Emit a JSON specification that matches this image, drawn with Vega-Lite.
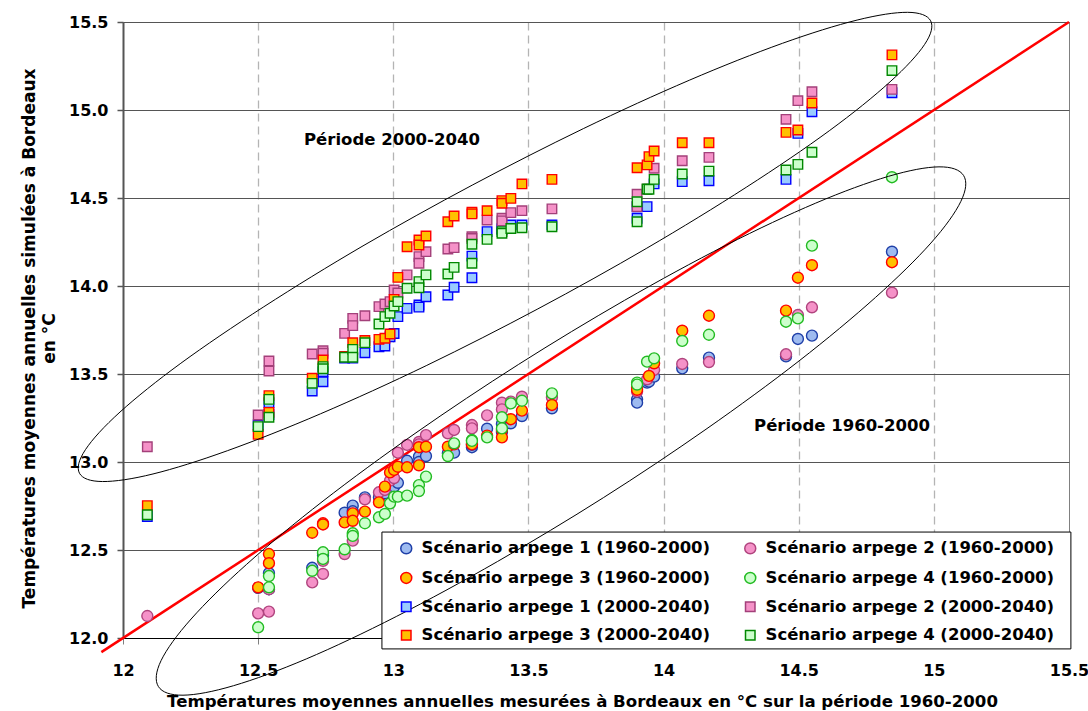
{
"$schema": "https://vega.github.io/schema/vega-lite/v6.json",
"width": 946, "height": 616,
"autosize": {"type": "none"},
"padding": {"left": 123, "top": 22, "right": 19, "bottom": 73},
"background": "white",
"config": {
  "view": {"stroke": "#808080", "strokeWidth": 1},
  "font": "DejaVu Sans",
  "axis": {"labelFont": "DejaVu Sans", "labelFontWeight": "bold", "labelColor": "black", "titleFont": "DejaVu Sans", "titleFontWeight": "bold", "titleColor": "black"},
  "legend": {"padding": 0, "symbolStrokeWidth": 1.5, "labelFont": "DejaVu Sans", "labelFontWeight": "bold", "labelFontSize": 16.5, "labelColor": "black", "labelLimit": 400}
},
"datasets": {
"pts": [
{"s":"A1","x":12.50,"y":12.285},{"s":"A1","x":12.54,"y":12.368},{"s":"A1","x":12.54,"y":12.277},{"s":"A1","x":12.70,"y":12.399},{"s":"A1","x":12.74,"y":12.481},{"s":"A1","x":12.74,"y":12.47},{"s":"A1","x":12.82,"y":12.712},{"s":"A1","x":12.85,"y":12.752},{"s":"A1","x":12.85,"y":12.72},{"s":"A1","x":12.895,"y":12.799},{"s":"A1","x":12.947,"y":12.80},{"s":"A1","x":12.969,"y":12.822},{"s":"A1","x":12.988,"y":12.845},{"s":"A1","x":13.003,"y":12.860},{"s":"A1","x":13.017,"y":12.882},{"s":"A1","x":13.051,"y":13.007},{"s":"A1","x":13.095,"y":13.031},{"s":"A1","x":13.095,"y":13.0},{"s":"A1","x":13.121,"y":13.034},{"s":"A1","x":13.202,"y":13.05},{"s":"A1","x":13.225,"y":13.053},{"s":"A1","x":13.291,"y":13.084},{"s":"A1","x":13.291,"y":13.097},{"s":"A1","x":13.347,"y":13.189},{"s":"A1","x":13.402,"y":13.216},{"s":"A1","x":13.402,"y":13.170},{"s":"A1","x":13.435,"y":13.220},{"s":"A1","x":13.476,"y":13.261},{"s":"A1","x":13.587,"y":13.305},{"s":"A1","x":13.902,"y":13.356},{"s":"A1","x":13.902,"y":13.337},{"s":"A1","x":13.939,"y":13.451},{"s":"A1","x":13.946,"y":13.456},{"s":"A1","x":13.965,"y":13.485},{"s":"A1","x":14.069,"y":13.532},{"s":"A1","x":14.168,"y":13.593},{"s":"A1","x":14.453,"y":13.60},{"s":"A1","x":14.497,"y":13.699},{"s":"A1","x":14.549,"y":13.718},{"s":"A1","x":14.845,"y":14.195},
{"s":"A2","x":12.09,"y":12.125},{"s":"A2","x":12.50,"y":12.140},{"s":"A2","x":12.54,"y":12.277},{"s":"A2","x":12.54,"y":12.150},{"s":"A2","x":12.70,"y":12.316},{"s":"A2","x":12.74,"y":12.438},{"s":"A2","x":12.74,"y":12.364},{"s":"A2","x":12.82,"y":12.477},{"s":"A2","x":12.85,"y":12.553},{"s":"A2","x":12.895,"y":12.788},{"s":"A2","x":12.947,"y":12.828},{"s":"A2","x":12.969,"y":12.841},{"s":"A2","x":12.988,"y":12.894},{"s":"A2","x":13.003,"y":12.909},{"s":"A2","x":13.017,"y":13.053},{"s":"A2","x":13.051,"y":13.097},{"s":"A2","x":13.095,"y":13.114},{"s":"A2","x":13.095,"y":13.10},{"s":"A2","x":13.121,"y":13.153},{"s":"A2","x":13.202,"y":13.163},{"s":"A2","x":13.225,"y":13.182},{"s":"A2","x":13.291,"y":13.210},{"s":"A2","x":13.291,"y":13.191},{"s":"A2","x":13.347,"y":13.265},{"s":"A2","x":13.402,"y":13.337},{"s":"A2","x":13.402,"y":13.299},{"s":"A2","x":13.435,"y":13.343},{"s":"A2","x":13.476,"y":13.371},{"s":"A2","x":13.587,"y":13.368},{"s":"A2","x":13.902,"y":13.40},{"s":"A2","x":13.939,"y":13.47},{"s":"A2","x":13.965,"y":13.523},{"s":"A2","x":14.069,"y":13.557},{"s":"A2","x":14.168,"y":13.568},{"s":"A2","x":14.453,"y":13.612},{"s":"A2","x":14.497,"y":13.835},{"s":"A2","x":14.549,"y":13.879},{"s":"A2","x":14.845,"y":13.962},
{"s":"A3","x":12.50,"y":12.288},{"s":"A3","x":12.54,"y":12.477},{"s":"A3","x":12.54,"y":12.425},{"s":"A3","x":12.70,"y":12.598},{"s":"A3","x":12.74,"y":12.652},{"s":"A3","x":12.74,"y":12.645},{"s":"A3","x":12.82,"y":12.657},{"s":"A3","x":12.85,"y":12.708},{"s":"A3","x":12.85,"y":12.666},{"s":"A3","x":12.895,"y":12.718},{"s":"A3","x":12.947,"y":12.771},{"s":"A3","x":12.969,"y":12.860},{"s":"A3","x":12.988,"y":12.941},{"s":"A3","x":13.003,"y":12.955},{"s":"A3","x":13.017,"y":12.973},{"s":"A3","x":13.051,"y":12.970},{"s":"A3","x":13.095,"y":13.084},{"s":"A3","x":13.095,"y":12.981},{"s":"A3","x":13.121,"y":13.087},{"s":"A3","x":13.202,"y":13.087},{"s":"A3","x":13.225,"y":13.10},{"s":"A3","x":13.291,"y":13.106},{"s":"A3","x":13.291,"y":13.10},{"s":"A3","x":13.347,"y":13.15},{"s":"A3","x":13.402,"y":13.182},{"s":"A3","x":13.402,"y":13.140},{"s":"A3","x":13.435,"y":13.243},{"s":"A3","x":13.476,"y":13.292},{"s":"A3","x":13.587,"y":13.324},{"s":"A3","x":13.902,"y":13.424},{"s":"A3","x":13.902,"y":13.41},{"s":"A3","x":13.946,"y":13.489},{"s":"A3","x":13.965,"y":13.561},{"s":"A3","x":14.069,"y":13.746},{"s":"A3","x":14.168,"y":13.831},{"s":"A3","x":14.453,"y":13.860},{"s":"A3","x":14.497,"y":14.047},{"s":"A3","x":14.549,"y":14.118},{"s":"A3","x":14.845,"y":14.135},
{"s":"A4","x":12.50,"y":12.061},{"s":"A4","x":12.54,"y":12.352},{"s":"A4","x":12.54,"y":12.288},{"s":"A4","x":12.70,"y":12.382},{"s":"A4","x":12.74,"y":12.487},{"s":"A4","x":12.74,"y":12.449},{"s":"A4","x":12.82,"y":12.504},{"s":"A4","x":12.85,"y":12.595},{"s":"A4","x":12.85,"y":12.580},{"s":"A4","x":12.895,"y":12.652},{"s":"A4","x":12.947,"y":12.686},{"s":"A4","x":12.969,"y":12.705},{"s":"A4","x":12.988,"y":12.765},{"s":"A4","x":13.003,"y":12.803},{"s":"A4","x":13.017,"y":12.803},{"s":"A4","x":13.051,"y":12.809},{"s":"A4","x":13.095,"y":12.869},{"s":"A4","x":13.095,"y":12.835},{"s":"A4","x":13.121,"y":12.917},{"s":"A4","x":13.202,"y":13.034},{"s":"A4","x":13.225,"y":13.106},{"s":"A4","x":13.291,"y":13.125},{"s":"A4","x":13.291,"y":13.12},{"s":"A4","x":13.347,"y":13.140},{"s":"A4","x":13.402,"y":13.254},{"s":"A4","x":13.402,"y":13.191},{"s":"A4","x":13.435,"y":13.333},{"s":"A4","x":13.476,"y":13.348},{"s":"A4","x":13.587,"y":13.390},{"s":"A4","x":13.902,"y":13.451},{"s":"A4","x":13.902,"y":13.44},{"s":"A4","x":13.939,"y":13.570},{"s":"A4","x":13.965,"y":13.589},{"s":"A4","x":14.069,"y":13.688},{"s":"A4","x":14.168,"y":13.723},{"s":"A4","x":14.453,"y":13.797},{"s":"A4","x":14.497,"y":13.816},{"s":"A4","x":14.549,"y":14.229},{"s":"A4","x":14.845,"y":14.618},
{"s":"B1","x":12.09,"y":12.69},{"s":"B1","x":12.50,"y":13.210},{"s":"B1","x":12.54,"y":13.337},{"s":"B1","x":12.54,"y":13.27},{"s":"B1","x":12.70,"y":13.403},{"s":"B1","x":12.74,"y":13.513},{"s":"B1","x":12.74,"y":13.456},{"s":"B1","x":12.82,"y":13.59},{"s":"B1","x":12.85,"y":13.59},{"s":"B1","x":12.895,"y":13.621},{"s":"B1","x":12.947,"y":13.655},{"s":"B1","x":12.969,"y":13.659},{"s":"B1","x":12.988,"y":13.712},{"s":"B1","x":13.003,"y":13.73},{"s":"B1","x":13.017,"y":13.826},{"s":"B1","x":13.051,"y":13.873},{"s":"B1","x":13.095,"y":13.892},{"s":"B1","x":13.095,"y":13.88},{"s":"B1","x":13.121,"y":13.939},{"s":"B1","x":13.202,"y":13.949},{"s":"B1","x":13.225,"y":13.993},{"s":"B1","x":13.291,"y":14.170},{"s":"B1","x":13.291,"y":14.047},{"s":"B1","x":13.347,"y":14.309},{"s":"B1","x":13.402,"y":14.327},{"s":"B1","x":13.402,"y":14.32},{"s":"B1","x":13.435,"y":14.347},{"s":"B1","x":13.476,"y":14.347},{"s":"B1","x":13.587,"y":14.347},{"s":"B1","x":13.902,"y":14.45},{"s":"B1","x":13.902,"y":14.385},{"s":"B1","x":13.939,"y":14.451},{"s":"B1","x":13.965,"y":14.58},{"s":"B1","x":14.069,"y":14.593},{"s":"B1","x":14.168,"y":14.598},{"s":"B1","x":14.453,"y":14.606},{"s":"B1","x":14.497,"y":14.867},{"s":"B1","x":14.549,"y":14.99},{"s":"B1","x":14.845,"y":15.098},
{"s":"B2","x":12.09,"y":13.087},{"s":"B2","x":12.50,"y":13.267},{"s":"B2","x":12.54,"y":13.574},{"s":"B2","x":12.54,"y":13.517},{"s":"B2","x":12.70,"y":13.614},{"s":"B2","x":12.74,"y":13.632},{"s":"B2","x":12.74,"y":13.618},{"s":"B2","x":12.82,"y":13.731},{"s":"B2","x":12.85,"y":13.816},{"s":"B2","x":12.85,"y":13.775},{"s":"B2","x":12.895,"y":13.831},{"s":"B2","x":12.947,"y":13.883},{"s":"B2","x":12.969,"y":13.898},{"s":"B2","x":12.988,"y":13.911},{"s":"B2","x":13.003,"y":13.977},{"s":"B2","x":13.017,"y":13.96},{"s":"B2","x":13.051,"y":14.063},{"s":"B2","x":13.095,"y":14.167},{"s":"B2","x":13.095,"y":14.129},{"s":"B2","x":13.121,"y":14.195},{"s":"B2","x":13.202,"y":14.210},{"s":"B2","x":13.225,"y":14.218},{"s":"B2","x":13.291,"y":14.280},{"s":"B2","x":13.291,"y":14.27},{"s":"B2","x":13.347,"y":14.375},{"s":"B2","x":13.402,"y":14.385},{"s":"B2","x":13.402,"y":14.37},{"s":"B2","x":13.435,"y":14.417},{"s":"B2","x":13.476,"y":14.428},{"s":"B2","x":13.587,"y":14.438},{"s":"B2","x":13.902,"y":14.521},{"s":"B2","x":13.902,"y":14.451},{"s":"B2","x":13.939,"y":14.55},{"s":"B2","x":13.965,"y":14.669},{"s":"B2","x":14.069,"y":14.712},{"s":"B2","x":14.168,"y":14.731},{"s":"B2","x":14.453,"y":14.947},{"s":"B2","x":14.497,"y":15.053},{"s":"B2","x":14.549,"y":15.104},{"s":"B2","x":14.845,"y":15.117},
{"s":"B3","x":12.09,"y":12.752},{"s":"B3","x":12.50,"y":13.157},{"s":"B3","x":12.54,"y":13.377},{"s":"B3","x":12.54,"y":13.282},{"s":"B3","x":12.70,"y":13.476},{"s":"B3","x":12.74,"y":13.580},{"s":"B3","x":12.82,"y":13.60},{"s":"B3","x":12.85,"y":13.678},{"s":"B3","x":12.895,"y":13.69},{"s":"B3","x":12.947,"y":13.697},{"s":"B3","x":12.969,"y":13.703},{"s":"B3","x":12.988,"y":13.727},{"s":"B3","x":13.003,"y":13.924},{"s":"B3","x":13.017,"y":14.049},{"s":"B3","x":13.051,"y":14.223},{"s":"B3","x":13.095,"y":14.261},{"s":"B3","x":13.095,"y":14.233},{"s":"B3","x":13.121,"y":14.284},{"s":"B3","x":13.202,"y":14.365},{"s":"B3","x":13.225,"y":14.398},{"s":"B3","x":13.291,"y":14.419},{"s":"B3","x":13.291,"y":14.41},{"s":"B3","x":13.347,"y":14.428},{"s":"B3","x":13.402,"y":14.485},{"s":"B3","x":13.402,"y":14.47},{"s":"B3","x":13.435,"y":14.498},{"s":"B3","x":13.476,"y":14.580},{"s":"B3","x":13.587,"y":14.606},{"s":"B3","x":13.902,"y":14.672},{"s":"B3","x":13.939,"y":14.688},{"s":"B3","x":13.946,"y":14.735},{"s":"B3","x":13.965,"y":14.767},{"s":"B3","x":14.069,"y":14.814},{"s":"B3","x":14.168,"y":14.814},{"s":"B3","x":14.453,"y":14.873},{"s":"B3","x":14.497,"y":14.886},{"s":"B3","x":14.549,"y":15.04},{"s":"B3","x":14.845,"y":15.313},
{"s":"B4","x":12.09,"y":12.70},{"s":"B4","x":12.50,"y":13.201},{"s":"B4","x":12.54,"y":13.356},{"s":"B4","x":12.54,"y":13.254},{"s":"B4","x":12.70,"y":13.447},{"s":"B4","x":12.74,"y":13.542},{"s":"B4","x":12.74,"y":13.53},{"s":"B4","x":12.82,"y":13.595},{"s":"B4","x":12.85,"y":13.640},{"s":"B4","x":12.85,"y":13.595},{"s":"B4","x":12.895,"y":13.678},{"s":"B4","x":12.947,"y":13.784},{"s":"B4","x":12.969,"y":13.826},{"s":"B4","x":12.988,"y":13.845},{"s":"B4","x":13.003,"y":13.886},{"s":"B4","x":13.017,"y":13.911},{"s":"B4","x":13.051,"y":13.987},{"s":"B4","x":13.095,"y":14.025},{"s":"B4","x":13.095,"y":13.990},{"s":"B4","x":13.121,"y":14.063},{"s":"B4","x":13.202,"y":14.068},{"s":"B4","x":13.225,"y":14.106},{"s":"B4","x":13.291,"y":14.237},{"s":"B4","x":13.291,"y":14.129},{"s":"B4","x":13.347,"y":14.265},{"s":"B4","x":13.402,"y":14.309},{"s":"B4","x":13.402,"y":14.30},{"s":"B4","x":13.435,"y":14.327},{"s":"B4","x":13.476,"y":14.331},{"s":"B4","x":13.587,"y":14.337},{"s":"B4","x":13.902,"y":14.479},{"s":"B4","x":13.902,"y":14.365},{"s":"B4","x":13.939,"y":14.551},{"s":"B4","x":13.946,"y":14.55},{"s":"B4","x":13.965,"y":14.606},{"s":"B4","x":14.069,"y":14.636},{"s":"B4","x":14.168,"y":14.653},{"s":"B4","x":14.453,"y":14.659},{"s":"B4","x":14.497,"y":14.691},{"s":"B4","x":14.549,"y":14.76},{"s":"B4","x":14.845,"y":15.224}
],
"ell": [
{"e":1,"i":0,"x":14.988,"y":15.507},{"e":1,"i":1,"x":14.966,"y":15.373},{"e":1,"i":2,"x":14.838,"y":15.160},{"e":1,"i":3,"x":14.613,"y":14.882},{"e":1,"i":4,"x":14.306,"y":14.561},{"e":1,"i":5,"x":13.938,"y":14.215},{"e":1,"i":6,"x":13.535,"y":13.870},{"e":1,"i":7,"x":13.124,"y":13.549},{"e":1,"i":8,"x":12.731,"y":13.274},{"e":1,"i":9,"x":12.386,"y":13.064},{"e":1,"i":10,"x":12.111,"y":12.932},{"e":1,"i":11,"x":11.924,"y":12.889},{"e":1,"i":12,"x":11.839,"y":12.936},{"e":1,"i":13,"x":11.861,"y":13.070},{"e":1,"i":14,"x":11.989,"y":13.284},{"e":1,"i":15,"x":12.214,"y":13.561},{"e":1,"i":16,"x":12.521,"y":13.882},{"e":1,"i":17,"x":12.888,"y":14.228},{"e":1,"i":18,"x":13.292,"y":14.573},{"e":1,"i":19,"x":13.703,"y":14.894},{"e":1,"i":20,"x":14.095,"y":15.169},{"e":1,"i":21,"x":14.440,"y":15.379},{"e":1,"i":22,"x":14.716,"y":15.511},{"e":1,"i":23,"x":14.903,"y":15.555},
{"e":2,"i":0,"x":15.110,"y":14.628},{"e":2,"i":1,"x":15.100,"y":14.481},{"e":2,"i":2,"x":14.989,"y":14.244},{"e":2,"i":3,"x":14.784,"y":13.935},{"e":2,"i":4,"x":14.501,"y":13.574},{"e":2,"i":5,"x":14.157,"y":13.186},{"e":2,"i":6,"x":13.777,"y":12.797},{"e":2,"i":7,"x":13.386,"y":12.435},{"e":2,"i":8,"x":13.011,"y":12.122},{"e":2,"i":9,"x":12.678,"y":11.881},{"e":2,"i":10,"x":12.409,"y":11.729},{"e":2,"i":11,"x":12.222,"y":11.675},{"e":2,"i":12,"x":12.131,"y":11.724},{"e":2,"i":13,"x":12.141,"y":11.872},{"e":2,"i":14,"x":12.252,"y":12.108},{"e":2,"i":15,"x":12.457,"y":12.418},{"e":2,"i":16,"x":12.740,"y":12.778},{"e":2,"i":17,"x":13.084,"y":13.166},{"e":2,"i":18,"x":13.464,"y":13.555},{"e":2,"i":19,"x":13.855,"y":13.918},{"e":2,"i":20,"x":14.230,"y":14.231},{"e":2,"i":21,"x":14.563,"y":14.471},{"e":2,"i":22,"x":14.832,"y":14.623},{"e":2,"i":23,"x":15.019,"y":14.677}
]
},
"layer": [
{
  "data": {"values": [{}]},
  "mark": {"type": "rect", "fill": "white", "stroke": "black", "strokeWidth": 1, "clip": false},
  "encoding": {
    "x": {"datum": 12.958, "type": "quantitative", "scale": {"domain": [12, 15.5], "nice": false, "zero": false},
      "axis": {"values": [12, 12.5, 13, 13.5, 14, 14.5, 15, 15.5], "format": ".1~f", "labelFontSize": 16, "labelPadding": 18, "labelOverlap": false, "labelFlush": false,
        "tickSize": 6, "tickColor": "#808080", "domainColor": "black", "domainWidth": 1,
        "grid": true, "gridColor": "#b4b4b4", "gridDash": [8, 5], "gridWidth": 1.3,
        "gridOpacity": {"condition": {"test": "datum.value <= 12 || datum.value >= 15.5", "value": 0}, "value": 1},
        "title": "Températures moyennes annuelles mesurées à Bordeaux en °C sur la période 1960-2000",
        "titleFontSize": 16.6, "titleX": 459, "titleY": 68, "titleBaseline": "alphabetic"}},
    "x2": {"datum": 15.507},
    "y": {"datum": 12.602, "type": "quantitative", "scale": {"domain": [12, 15.5], "nice": false, "zero": false},
      "axis": {"values": [12, 12.5, 13, 13.5, 14, 14.5, 15, 15.5], "format": ".1f", "labelFontSize": 16, "labelPadding": 9, "labelOverlap": false, "labelFlush": false,
        "tickSize": 6, "tickColor": "#555555", "tickWidth": 1.5, "domainColor": "#555555", "domainWidth": 2,
        "grid": true, "gridColor": "#555555", "gridWidth": 1,
        "title": ["Températures moyennes annuelles simulées à Bordeaux", "en °C"],
        "titleFontSize": 17, "titleLineHeight": 20, "titlePadding": 10, "titleY": 316}},
    "y2": {"datum": 11.938}
  }
},
{
  "data": {"values": [{"x": 11.92, "y": 11.92}, {"x": 15.5, "y": 15.5}]},
  "mark": {"type": "line", "color": "#ff0000", "strokeWidth": 2.5, "clip": false},
  "encoding": {"x": {"field": "x", "type": "quantitative"}, "y": {"field": "y", "type": "quantitative"}}
},
{
  "data": {"name": "pts"},
  "mark": {"type": "point", "filled": true, "opacity": 1, "fillOpacity": 1, "strokeWidth": 1.4},
  "encoding": {
    "x": {"field": "x", "type": "quantitative"},
    "y": {"field": "y", "type": "quantitative"},
    "shape": {"field": "s", "type": "nominal", "scale": {"domain": ["A1","A2","A3","A4","B1","B2","B3","B4"], "range": ["circle","circle","circle","circle","square","square","square","square"]},
      "legend": {"title": null, "orient": "none", "legendX": 275, "legendY": 518, "columns": 2, "direction": "horizontal", "rowPadding": 11.7, "columnPadding": 30, "labelOffset": 7, "symbolOffset": 0,
        "labelExpr": "datum.label == 'A1' ? 'Scénario arpege 1 (1960-2000)' : datum.label == 'A2' ? 'Scénario arpege 2 (1960-2000)' : datum.label == 'A3' ? 'Scénario arpege 3 (1960-2000)' : datum.label == 'A4' ? 'Scénario arpege 4 (1960-2000)' : datum.label == 'B1' ? 'Scénario arpege 1 (2000-2040)' : datum.label == 'B2' ? 'Scénario arpege 2 (2000-2040)' : datum.label == 'B3' ? 'Scénario arpege 3 (2000-2040)' : 'Scénario arpege 4 (2000-2040)'"}},
    "fill": {"field": "s", "type": "nominal", "scale": {"domain": ["A1","A2","A3","A4","B1","B2","B3","B4"], "range": ["#9ebbf0","#f592c8","#ffc000","#ccffcc","#99ccff","#f592c8","#ffc000","#ccffcc"]}},
    "stroke": {"field": "s", "type": "nominal", "scale": {"domain": ["A1","A2","A3","A4","B1","B2","B3","B4"], "range": ["#1f3fa8","#b0447e","#ff0000","#22bb22","#0000ff","#a3407a","#ff0000","#008800"]}},
    "size": {"field": "s", "type": "nominal", "scale": {"type": "ordinal", "domain": ["A1","A2","A3","A4","B1","B2","B3","B4"], "range": [120,120,120,120,90,90,90,90]}}
  }
},
{
  "data": {"name": "ell"},
  "mark": {"type": "line", "interpolate": "cardinal-closed", "stroke": "black", "strokeWidth": 1, "clip": false},
  "encoding": {
    "x": {"field": "x", "type": "quantitative"},
    "y": {"field": "y", "type": "quantitative"},
    "detail": {"field": "e", "type": "nominal"},
    "order": {"field": "i", "type": "quantitative"}
  }
},
{
  "data": {"values": [{"x": 12.995, "y": 14.83, "t": "Période 2000-2040"}, {"x": 14.66, "y": 13.205, "t": "Période 1960-2000"}]},
  "mark": {"type": "text", "font": "DejaVu Sans", "fontWeight": "bold", "fontSize": 16.5, "color": "black", "align": "center", "baseline": "middle"},
  "encoding": {"x": {"field": "x", "type": "quantitative"}, "y": {"field": "y", "type": "quantitative"}, "text": {"field": "t", "type": "nominal"}}
}
]
}
